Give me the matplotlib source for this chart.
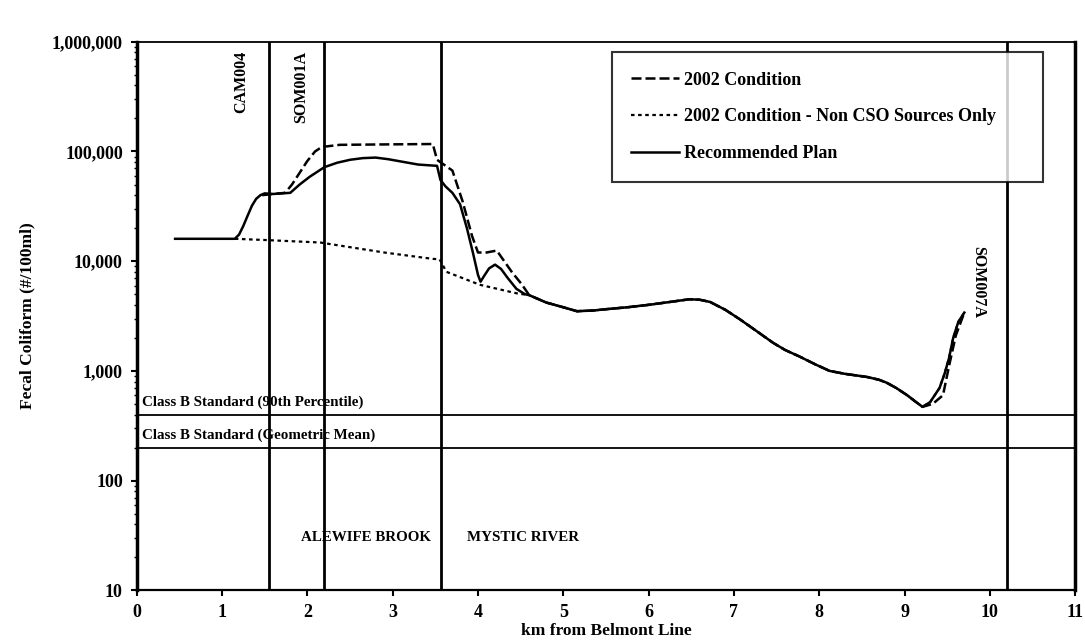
import matplotlib
matplotlib.use('Agg')
import matplotlib.pyplot as plt
from matplotlib.ticker import FuncFormatter, LogLocator, NullFormatter, FixedLocator

plt.rcParams['font.family'] = ['Liberation Serif', 'DejaVu Serif']
plt.rcParams['font.weight'] = 'bold'

# ---- data (km from Belmont Line, fecal coliform #/100ml) ----
cond_km = [1.47, 1.74, 1.82, 1.91, 2.0, 2.09, 2.17, 2.38, 2.9, 3.47, 3.52, 3.7, 3.82,
           3.93, 4.0, 4.1, 4.22, 4.4, 4.51, 4.6, 4.8, 5.0, 5.16, 5.35, 5.5, 5.75, 6.0,
           6.25, 6.48, 6.6, 6.72, 6.9, 7.07, 7.25, 7.46, 7.6, 7.77, 7.95, 8.12, 8.3,
           8.56, 8.7, 8.79, 8.9, 9.03, 9.12, 9.21, 9.33, 9.45, 9.52, 9.6, 9.7]
cond_fc = [40000, 42000, 50000, 64000, 82000, 100000, 110000, 115000, 116000, 117000,
           84000, 67000, 35000, 17000, 12000, 12000, 12500, 7900, 6200, 4900, 4200, 3800,
           3500, 3550, 3650, 3800, 4000, 4250, 4500, 4450, 4250, 3600, 2950, 2350, 1800,
           1550, 1350, 1150, 1000, 940, 880, 830, 780, 700, 600, 530, 470, 500, 600, 1100,
           2100, 3400]

noncso_km = [1.15, 1.5, 2.15, 2.9, 3.47, 3.55, 3.63, 4.02, 4.45, 4.6, 4.8, 5.0, 5.16,
             5.35, 5.5, 5.75, 6.0, 6.25, 6.48, 6.6, 6.72, 6.9, 7.07, 7.25, 7.46, 7.6,
             7.77, 7.95, 8.12, 8.3, 8.56, 8.7, 8.79, 8.9, 9.03, 9.12, 9.21, 9.3, 9.41,
             9.47, 9.52, 9.57, 9.63, 9.7]
noncso_fc = [16000, 15600, 14800, 12000, 10500, 10400, 8000, 6100, 5100, 4900, 4200,
             3800, 3500, 3550, 3650, 3800, 4000, 4250, 4500, 4450, 4250, 3600, 2950, 2350,
             1800, 1550, 1350, 1150, 1000, 940, 880, 830, 780, 700, 600, 530, 470, 520,
             700, 950, 1300, 2000, 2800, 3400]

plan_km = [0.45, 1.15, 1.2, 1.25, 1.3, 1.35, 1.4, 1.45, 1.5, 1.6, 1.8, 1.91, 2.03,
           2.2, 2.35, 2.5, 2.65, 2.8, 2.95, 3.1, 3.3, 3.52, 3.56, 3.62, 3.7, 3.79, 3.87,
           3.94, 4.0, 4.03, 4.07, 4.13, 4.2, 4.27, 4.35, 4.45, 4.55, 4.6, 4.8, 5.0,
           5.16, 5.35, 5.5, 5.75, 6.0, 6.25, 6.48, 6.6, 6.72, 6.9, 7.07, 7.25, 7.46,
           7.6, 7.77, 7.95, 8.12, 8.3, 8.56, 8.7, 8.79, 8.9, 9.03, 9.12, 9.21, 9.3,
           9.41, 9.47, 9.52, 9.57, 9.63, 9.7]
plan_fc = [16000, 16000, 17500, 21000, 26000, 32000, 37000, 40000, 41500, 41000, 42000,
           50000, 59000, 72000, 79000, 84000, 87000, 88000, 85000, 81000, 76000, 74000,
           55000, 48000, 42000, 33000, 20000, 12000, 7500, 6500, 7300, 8600, 9300, 8500,
           7000, 5600, 5000, 4900, 4200, 3800, 3500, 3550, 3650, 3800, 4000, 4250, 4500,
           4450, 4250, 3600, 2950, 2350, 1800, 1550, 1350, 1150, 1000, 940, 880, 830,
           780, 700, 600, 530, 470, 520, 700, 950, 1300, 2000, 2800, 3400]

series_labels = ["2002 Condition", "2002 Condition - Non CSO Sources Only", "Recommended Plan"]

cso_km = [1.55, 2.2, 3.57, 10.2]
standard_values = [400, 200]
standard_labels = ["Class B Standard (90th Percentile)", "Class B Standard (Geometric Mean)"]
outfall_labels = ["CAM004", "SOM001A", "SOM007A"]
reach_labels = ["ALEWIFE BROOK", "MYSTIC RIVER"]

x_ticks = list(range(0, 12))
y_ticks = [10, 100, 1000, 10000, 100000, 1000000]

# ---- figure ----
fig = plt.figure(figsize=(10.85, 6.43), dpi=100)
ax = fig.add_axes([0.126, 0.082, 0.865, 0.853])
ax.set_yscale('log')
ax.set_xlim(0, 11)
ax.set_ylim(10, 1000000)

ax.plot(cond_km, cond_fc, color='black', lw=1.8, linestyle=(0, (4, 1.6)), label=series_labels[0])
ax.plot(noncso_km, noncso_fc, color='black', lw=1.6, linestyle=(0, (1.6, 1.6)), label=series_labels[1])
ax.plot(plan_km, plan_fc, color='black', lw=1.8, linestyle='-', label=series_labels[2])

for xv in cso_km:
    ax.axvline(xv, color='black', lw=2.0)
for yv in standard_values:
    ax.axhline(yv, color='black', lw=1.3)

ax.text(0.06, standard_values[0] * 1.12, standard_labels[0], fontsize=10.8, va='bottom', ha='left')
ax.text(0.06, standard_values[1] * 1.12, standard_labels[1], fontsize=10.8, va='bottom', ha='left')

ax.text(1.22, 820000, outfall_labels[0], rotation=90, fontsize=11.5, va='top', ha='center')
ax.text(1.93, 820000, outfall_labels[1], rotation=90, fontsize=11.5, va='top', ha='center')
ax.text(9.86, 6500, outfall_labels[2], rotation=-90, fontsize=11.5, va='center', ha='center')

ax.text(1.93, 30, reach_labels[0], fontsize=10.8, va='center', ha='left')
ax.text(3.87, 30, reach_labels[1], fontsize=10.8, va='center', ha='left')

ax.xaxis.set_major_locator(FixedLocator(x_ticks))
ax.yaxis.set_major_locator(FixedLocator(y_ticks))
ax.yaxis.set_minor_locator(LogLocator(base=10, subs=range(2, 10)))
ax.yaxis.set_minor_formatter(NullFormatter())
ax.yaxis.set_major_formatter(FuncFormatter(lambda v, p: '{:,}'.format(int(round(v)))))
ax.tick_params(axis='both', which='major', direction='out', length=4, width=1.5,
               labelsize=13, pad=6)
ax.tick_params(axis='y', which='minor', direction='out', length=2.5, width=1.0)
for lab in ax.get_xticklabels() + ax.get_yticklabels():
    lab.set_fontweight('bold')

ax.spines['left'].set_linewidth(2.5)
ax.spines['bottom'].set_linewidth(1.6)
ax.spines['top'].set_linewidth(1.3)
ax.spines['right'].set_linewidth(2.5)

ax.set_xlabel("km from Belmont Line", fontsize=12.5, fontweight='bold', labelpad=1)
ax.set_ylabel("Fecal Coliform (#/100ml)", fontsize=12.5, fontweight='bold', labelpad=12)

leg = ax.legend(loc='upper left', bbox_to_anchor=(0.506, 0.982, 0.46, 0.0), mode='expand',
                frameon=True, fancybox=False, edgecolor='black',
                prop={'size': 13, 'weight': 'bold'},
                handlelength=2.65, handletextpad=0.25, labelspacing=1.1, borderpad=1.1,
                borderaxespad=0.0)
leg.get_frame().set_linewidth(1.5)

fig.savefig('out.png', dpi=100, facecolor='white')
